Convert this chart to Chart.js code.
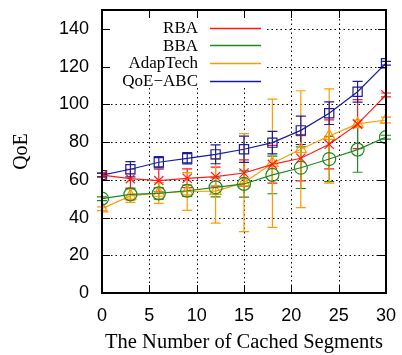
<!DOCTYPE html>
<html><head><meta charset="utf-8">
<script src="https://cdn.jsdelivr.net/npm/chart.js@4/dist/chart.umd.min.js"></script>
<style>html,body{margin:0;padding:0;background:#fff}#wrap{width:402px;height:355px}</style>
</head><body><div id="wrap"><canvas id="c" width="402" height="355"></canvas></div>
<script>
const xs = [0, 3, 6, 9, 12, 15, 18, 21, 24, 27, 30];
const rba = [62.5, 60.6, 59.6, 60.8, 61.7, 63.6, 68.2, 71.4, 78.8, 89.5, 105];
const rbaErr = [1, 5, 6, 5, 5, 7, 10, 12, 13, 13, 1];
const bba = [50, 52.3, 52.8, 54.2, 56, 57.8, 62.6, 66.4, 71, 76, 82.6];
const bbaErr = [1, 3, 3, 3, 5, 7, 10, 11, 12, 12, 1];
const adap = [44.7, 51.5, 53, 53.8, 54, 58.5, 68.8, 76.2, 83.2, 89.6, 91.7];
const adapErr = [1, 3.5, 5.5, 10, 17, 26, 34, 31, 25, 2, 1.5];
const qoe = [62.5, 65.6, 69.3, 71.4, 73.5, 76.2, 79.7, 86.2, 95.3, 106.7, 121.8];
const qoeErr = [1, 4, 3, 3, 5, 7, 6, 7.5, 6, 5.5, 1];
const xTicks = [0, 5, 10, 15, 20, 25, 30];
const yTicks = [0, 20, 40, 60, 80, 100, 120, 140];
const names = ['RBA', 'BBA', 'AdapTech', 'QoE\u2212ABC'];

const colors = ['#ff1a1a', '#1f8a1f', '#ff9a00', '#1c1c98'];
const series = [rba, bba, adap, qoe];
const errs = [rbaErr, bbaErr, adapErr, qoeErr];
const shapes = ['crossRot', 'circle', 'triangle', 'rect'];
const radii = [6.5, 6.5, 6.5, 6.5];

const datasets = series.map((s, i) => ({
  label: names[i],
  data: xs.map((x, j) => ({x: x, y: s[j]})),
  borderColor: colors[i],
  backgroundColor: 'rgba(0,0,0,0)',
  borderWidth: 1.2,
  pointStyle: shapes[i],
  pointRadius: radii[i],
  pointBorderWidth: 1.2,
  pointBorderColor: colors[i],
  pointBackgroundColor: 'rgba(0,0,0,0)',
  tension: 0,
  errors: errs[i]
}));

const LEG = {l: 103, r: 267, t: 11, b: 88};

const framePlugin = {
  id: 'frame',
  beforeDatasetsDraw(chart) {
    const ctx = chart.ctx, a = chart.chartArea;
    const xs_ = chart.scales.x, ys_ = chart.scales.y;
    ctx.save();
    ctx.strokeStyle = '#000';
    ctx.lineWidth = 1;
    ctx.setLineDash([1.5, 3]);
    yTicks.forEach(v => {
      const y = Math.round(ys_.getPixelForValue(v)) + 0.5;
      if (v === 0) return;
      let x0 = a.left;
      if (y > LEG.t && y < LEG.b) x0 = LEG.r;
      ctx.beginPath(); ctx.moveTo(x0, y); ctx.lineTo(a.right, y); ctx.stroke();
    });
    xTicks.forEach(v => {
      const x = Math.round(xs_.getPixelForValue(v)) + 0.5;
      if (v === 0 || v === 30) return;
      let y0 = a.top;
      if (x > LEG.l && x < LEG.r) y0 = LEG.b;
      ctx.beginPath(); ctx.moveTo(x, y0); ctx.lineTo(x, a.bottom); ctx.stroke();
    });
    ctx.setLineDash([]);
    chart.data.datasets.forEach((ds, i) => {
      ctx.strokeStyle = ds.borderColor;
      ctx.lineWidth = 1.2;
      ds.data.forEach((p, j) => {
        const e = ds.errors[j];
        const x = xs_.getPixelForValue(p.x);
        const y1 = ys_.getPixelForValue(p.y + e);
        const y2 = ys_.getPixelForValue(p.y - e);
        ctx.beginPath();
        ctx.moveTo(x, y1); ctx.lineTo(x, y2);
        ctx.moveTo(x - 5, y1); ctx.lineTo(x + 5, y1);
        ctx.moveTo(x - 5, y2); ctx.lineTo(x + 5, y2);
        ctx.stroke();
      });
    });
    ctx.restore();
  },
  afterDraw(chart) {
    const ctx = chart.ctx, a = chart.chartArea;
    const xs_ = chart.scales.x, ys_ = chart.scales.y;
    ctx.save();
    ctx.font = '17px "Liberation Serif", "Times New Roman", serif';
    ctx.textAlign = 'right';
    ctx.textBaseline = 'middle';
    const rowY = [27.5, 45.2, 62.9, 80.6];
    names.forEach((n, i) => {
      ctx.fillStyle = '#000';
      ctx.fillText(n, 198, rowY[i] + 1);
      ctx.strokeStyle = colors[i];
      ctx.lineWidth = 1.3;
      ctx.beginPath(); ctx.moveTo(210, Math.round(rowY[i]) + 0.5); ctx.lineTo(261, Math.round(rowY[i]) + 0.5); ctx.stroke();
    });
    ctx.strokeStyle = '#000';
    ctx.lineWidth = 1;
    const T = 8;
    yTicks.forEach(v => {
      const y = Math.round(ys_.getPixelForValue(v)) + 0.5;
      ctx.beginPath();
      ctx.moveTo(a.left, y); ctx.lineTo(a.left + T, y);
      ctx.moveTo(a.right, y); ctx.lineTo(a.right - T, y);
      ctx.stroke();
    });
    xTicks.forEach(v => {
      const x = Math.round(xs_.getPixelForValue(v)) + 0.5;
      ctx.beginPath();
      ctx.moveTo(x, a.bottom); ctx.lineTo(x, a.bottom - T);
      ctx.moveTo(x, a.top); ctx.lineTo(x, a.top + T);
      ctx.stroke();
    });
    ctx.lineWidth = 2;
    ctx.strokeRect(a.left, a.top, a.right - a.left, a.bottom - a.top);
    ctx.restore();
  }
};

function noPad(s) { s.paddingTop = 0; s.paddingBottom = 0; s.paddingLeft = 0; s.paddingRight = 0; }

new Chart(document.getElementById('c'), {
  type: 'line',
  data: {datasets: datasets},
  options: {
    responsive: false,
    animation: false,
    devicePixelRatio: 1,
    layout: {padding: {left: 0, right: 16, top: 10, bottom: 0}},
    plugins: {legend: {display: false}, tooltip: {enabled: false}},
    scales: {
      x: {
        type: 'linear', min: 0, max: 30,
        afterBuildTicks(s) { s.ticks = xTicks.map(v => ({value: v})); },
        afterFit(s) { s.height = 62; noPad(s); },
        grid: {display: false, drawTicks: false},
        border: {display: false},
        ticks: {color: '#000', padding: 12, font: {family: '"Liberation Sans", Arial, sans-serif', size: 18}},
        title: {display: true, text: 'The Number of Cached Segments', color: '#000', padding: {top: 4, bottom: 0},
                font: {family: '"Liberation Serif", "Times New Roman", serif', size: 20.5}}
      },
      y: {
        type: 'linear', min: 0, max: 150,
        afterBuildTicks(s) { s.ticks = yTicks.map(v => ({value: v})); },
        afterFit(s) { s.width = 102; noPad(s); },
        grid: {display: false, drawTicks: false},
        border: {display: false},
        ticks: {color: '#000', padding: 13, font: {family: '"Liberation Sans", Arial, sans-serif', size: 18}},
        title: {display: true, text: 'QoE', color: '#000', padding: {top: 10, bottom: 0},
                font: {family: '"Liberation Serif", "Times New Roman", serif', size: 20}}
      }
    }
  },
  plugins: [framePlugin]
});
</script></body></html>
